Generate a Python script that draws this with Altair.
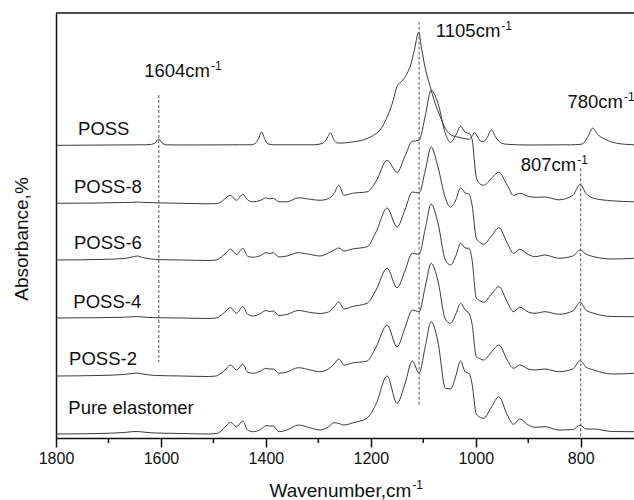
import altair as alt
import pandas as pd

# ---------------- data ----------------
series_names = ["POSS", "POSS-8", "POSS-6", "POSS-4", "POSS-2", "Pure elastomer"]
# vertical stacking offset of each spectrum (arbitrary absorbance units)
offsets = [292.7, 234.7, 178.0, 120.0, 62.0, 4.0]

# POSS spectrum
poss_wn = [1800, 1700, 1630, 1620, 1611, 1604, 1598, 1590, 1560, 1450,
           1428, 1420, 1414, 1408, 1402, 1396, 1385, 1310, 1295, 1287,
           1282, 1277, 1271, 1265, 1259, 1240, 1214, 1195, 1182, 1170,
           1157, 1150, 1141, 1133, 1125, 1117, 1109, 1103, 1097, 1087,
           1078, 1068, 1058, 1049, 1036, 1024, 1013, 1008, 1002, 996,
           990, 985, 978, 970, 963, 956, 950, 940, 900, 820,
           800, 795, 786, 777, 768, 757, 745, 731, 715, 698]
poss_abs = [0, 0.3, 0.5, 0.8, 2.5, 6.3, 2.5, 0.5, 0.3, 0.5,
            0.5, 2, 6.5, 13.3, 6, 1.5, 0.5, 0.5, 1.5, 4,
            8.5, 12.5, 6, 2.5, 2.2, 3, 5.5, 10, 15.5, 27,
            45.5, 59, 64, 70, 79, 95, 113, 96, 79, 59,
            43, 29, 17, 11, 8.5, 7, 6, 8.5, 12.8, 8,
            4, 3.8, 8, 15.5, 9, 4, 2, 1, 0.3, 0.5,
            1, 2, 9, 17.2, 11, 7, 4, 2, 1, 0.5]

# common wavenumber grid of the elastomer spectra
grid_wn = [1800, 1720, 1670, 1655, 1645, 1635, 1610, 1560, 1510, 1495,
           1485, 1476, 1468, 1456, 1444, 1435, 1425, 1410, 1400, 1393,
           1386, 1375, 1360, 1338, 1315, 1297, 1281, 1270, 1261, 1251,
           1235, 1207, 1190, 1169, 1150, 1135, 1121, 1108, 1096, 1085,
           1072, 1058, 1048, 1038, 1029, 1020, 1013, 1007, 999, 991,
           985, 970, 956, 940, 928, 916, 900, 887, 868, 842,
           815, 801, 790, 775, 740, 698]

poss8_abs = [0, 0.3, 0.8, 1, 1.2, 1, 0.5, 0, -0.5, -0.3,
             1.5, 5.5, 8, 3, 9, 3.5, 1.5, 3, 5.5, 4.5,
             5, 1.5, 1.5, 5.5, 4, 3, 4.7, 10, 18, 8,
             10, 11.5, 22, 43, 31, 47, 62, 63, 88, 113,
             100, 70, 61, 68, 77, 71, 70, 64, 26, 19,
             18, 25, 31, 18, 8, 10, 7, 6, 6.3, 3.5,
             8, 19, 10, 5, 2.5, 1.5]

poss6_abs = [0, 0.5, 1.5, 3, 4, 2.5, 0.5, 0, -0.5, 0,
             3, 7, 11, 5.7, 11.7, 4, 2.7, 4.5, 7.3, 6.5,
             7.3, 3, 4, 7.3, 5.5, 4, 7, 10, 12, 9,
             11, 13.3, 28, 52, 33, 50, 68, 67, 90, 113,
             93, 62, 53, 60, 72, 67, 66, 55, 22, 17,
             15.7, 24, 32.3, 17, 6.7, 10.7, 5.5, 3.3, 5, 1.7,
             4, 10, 6, 3.3, 1, 1.7]

poss4_abs = [0, 0.3, 0.8, 1.2, 1.5, 1, 0.3, 0, -0.5, 0,
             3, 7, 10.5, 4.7, 11.5, 4, 2, 4.5, 7.5, 6.5,
             7, 2.5, 3.5, 7.5, 5.5, 4.5, 6, 11, 16, 9,
             11.5, 14.7, 28, 49.7, 30.3, 47, 64.7, 63.7, 90, 114,
             95, 58, 53, 62, 74.7, 70, 69.7, 58, 20, 17,
             15.7, 24, 31.3, 16, 6.3, 10.7, 6, 4.7, 6.3, 3.7,
             7, 15.7, 8, 4.7, 1.5, 1.3]

poss2_abs = [0, 0.5, 1.5, 2.5, 3, 2, 0.5, 0, -0.5, 0,
             3, 7, 11, 6, 11.7, 4, 2.7, 5, 7.7, 7,
             7, 2.7, 4, 8.3, 6, 4.3, 7, 12, 17, 11,
             13, 15, 29, 51, 29.3, 48, 66, 64.3, 90, 112.7,
             95, 57, 52.7, 62, 72.7, 66, 62.7, 52, 19.3, 17,
             16, 24, 31, 16, 7.7, 11, 7, 6, 7, 4.3,
             7, 15.3, 9, 6, 2, 2.7]

pure_abs = [0, 0.5, 1.5, 2.3, 2.5, 2, 1, 0.5, 0, 0.3,
            3, 8, 11.7, 7.3, 13, 4, 2.3, 4.5, 8.3, 8,
            8, 2.3, 4, 9, 6, 4, 7, 11.3, 10.5, 9,
            11, 16, 30, 58, 30.7, 50, 73, 61, 88, 112.3,
            92, 46, 45, 58, 73, 62, 60.7, 50, 20, 16.5,
            15.7, 27, 37.3, 19, 9.7, 15, 9, 6.7, 7.3, 4,
            4.5, 9, 5, 5, 2.5, 2.3]

# series labels (left edge wavenumber, baseline level)
label_wn = [1758, 1765.7, 1765.7, 1767, 1775, 1776.5]
label_val = [303, 245.5, 189, 129.7, 73, 24]

# peak annotations (right end of main text)
ann_main = ["1604cm", "1105cm", "780cm", "807cm"]
ann_sup = ["-1", "-1", "-1", "-1"]
ann_wn = [1506.5, 953.2, 719.4, 808.4]
ann_val = [361, 401.3, 329.7, 267.3]

# dashed marker lines
guide_wn = [1604, 1108, 800]
guide_top = [343, 416.3, 269.7]
guide_bottom = [76, 31.3, 0]

major_ticks = [1800, 1600, 1400, 1200, 1000, 800]
minor_ticks = [1700, 1500, 1300, 1100, 900]

# ---------------- tables ----------------
rows = []
spectra = [poss_abs, poss8_abs, poss6_abs, poss4_abs, poss2_abs, pure_abs]
for k, (name, off, vals) in enumerate(zip(series_names, offsets, spectra)):
    wns = poss_wn if k == 0 else grid_wn
    for i, (w, h) in enumerate(zip(wns, vals)):
        rows.append({"series": name, "wn": w, "val": off + h, "idx": i})
spec_df = pd.DataFrame(rows)

label_df = pd.DataFrame({"label": series_names, "wn": label_wn, "val": label_val})
ann_df = pd.DataFrame({"main": ann_main, "sup": ann_sup, "wn": ann_wn, "val": ann_val})
guide_df = pd.DataFrame({"wn": guide_wn, "top": guide_top, "bottom": guide_bottom})
minor_df = pd.DataFrame({"wn": minor_ticks})

FONT = "Liberation Sans"
INK = "#111111"
W, H = 578, 425

x_scale = alt.Scale(domain=[1800, 698.4], nice=False, zero=False)
y_scale = alt.Scale(domain=[0, 425], nice=False, zero=False)

x_axis = alt.Axis(values=major_ticks, title=None, tickSize=9, tickWidth=1.5,
                  tickColor=INK, domainColor=INK, domainWidth=1.5,
                  labelFontSize=16, labelFont=FONT, labelColor=INK,
                  labelPadding=3, grid=False, labelFlush=False,
                  labelOverlap=False, format="d")
y_axis = alt.Axis(title=None, ticks=False, labels=False, grid=False,
                  domain=True, domainColor=INK, domainWidth=1.5)

lines = alt.Chart(spec_df).mark_line(
    color="#3a3a3a", strokeWidth=1, interpolate="monotone", clip=True
).encode(
    x=alt.X("wn:Q", scale=x_scale, axis=x_axis),
    y=alt.Y("val:Q", scale=y_scale, axis=y_axis),
    detail="series:N",
    order="idx:Q",
)

top_border = alt.Chart(pd.DataFrame({"b": [0]})).mark_rule(
    color=INK, strokeWidth=1.5
).encode(x=alt.value(0), x2=alt.value(W), y=alt.value(0))

guides = alt.Chart(guide_df).mark_rule(
    color="#555555", strokeWidth=1, strokeDash=[3, 2]
).encode(x="wn:Q", y="top:Q", y2="bottom:Q")

labels = alt.Chart(label_df).mark_text(
    align="left", baseline="alphabetic", fontSize=18.5, font=FONT, color=INK
).encode(x="wn:Q", y="val:Q", text="label:N")

ann_text = alt.Chart(ann_df).mark_text(
    align="right", baseline="alphabetic", fontSize=18.5, font=FONT, color=INK
).encode(x="wn:Q", y="val:Q", text="main:N")

ann_sup_text = alt.Chart(ann_df).mark_text(
    align="left", baseline="alphabetic", fontSize=12, font=FONT, color=INK,
    dx=1, dy=-7
).encode(x="wn:Q", y="val:Q", text="sup:N")

minor = alt.Chart(minor_df).mark_rule(color=INK, strokeWidth=1.5).encode(
    x="wn:Q", y=alt.value(H), y2=alt.value(H + 5)
)

xt = alt.Chart(pd.DataFrame({"t": ["Wavenumber,cm"]})).mark_text(
    align="right", baseline="alphabetic", fontSize=19, font=FONT, color=INK
).encode(x=alt.value(355.3), y=alt.value(484.3), text="t:N")

xt_sup = alt.Chart(pd.DataFrame({"t": ["-1"]})).mark_text(
    align="left", baseline="alphabetic", fontSize=12, font=FONT, color=INK
).encode(x=alt.value(356.3), y=alt.value(476), text="t:N")

yt = alt.Chart(pd.DataFrame({"t": ["Absorbance,%"]})).mark_text(
    align="center", baseline="alphabetic", fontSize=19, font=FONT, color=INK,
    angle=270
).encode(x=alt.value(-28), y=alt.value(226), text="t:N")

chart = alt.layer(
    lines, top_border, guides, labels, ann_text, ann_sup_text, minor,
    xt, xt_sup, yt
).properties(
    width=W, height=H,
    padding={"left": 56, "top": 13, "right": 0, "bottom": 62},
    autosize=alt.AutoSizeParams(type="none"),
    background="white",
).configure_view(strokeWidth=0)

chart.save("out.html", embed_options={"renderer": "svg", "actions": False})
